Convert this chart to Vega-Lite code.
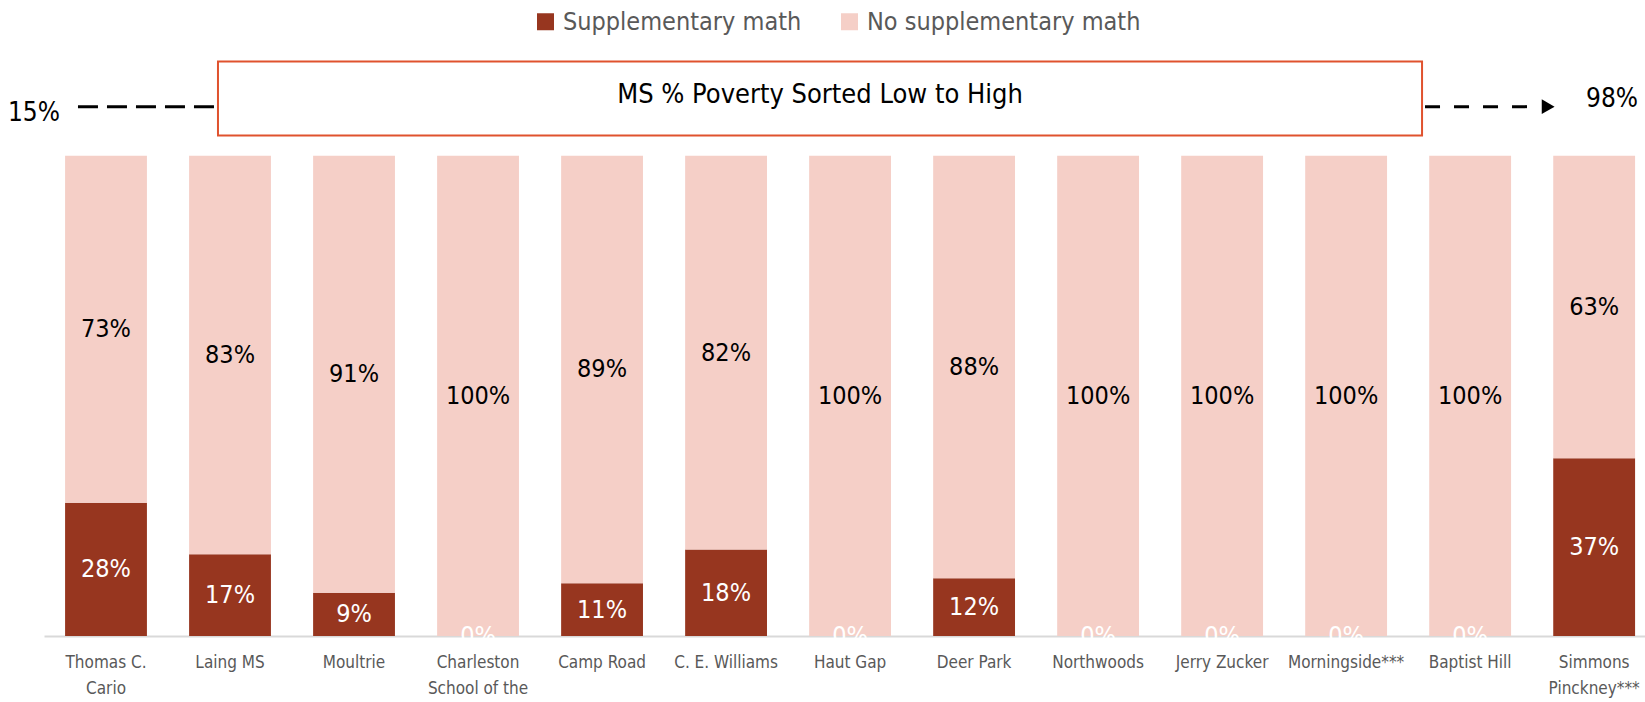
{
  "$schema": "https://vega.github.io/schema/vega-lite/v6.json",
  "width": 1601,
  "height": 586,
  "autosize": {"type": "none"},
  "padding": {"left": 44, "top": 50, "right": 0, "bottom": 66},
  "background": "white",
  "config": {"font": "DejaVu Sans Condensed, Roboto, sans-serif", "view": {"stroke": null}},
  "datasets": {
    "schools": [
      {"school": "Thomas C. Cario", "category": "Supplementary math", "share": 0.28},
      {"school": "Thomas C. Cario", "category": "No supplementary math", "share": 0.73},
      {"school": "Laing MS", "category": "Supplementary math", "share": 0.17},
      {"school": "Laing MS", "category": "No supplementary math", "share": 0.83},
      {"school": "Moultrie", "category": "Supplementary math", "share": 0.09},
      {"school": "Moultrie", "category": "No supplementary math", "share": 0.91},
      {"school": "Charleston School of the Arts", "category": "Supplementary math", "share": 0},
      {"school": "Charleston School of the Arts", "category": "No supplementary math", "share": 1.0},
      {"school": "Camp Road", "category": "Supplementary math", "share": 0.11},
      {"school": "Camp Road", "category": "No supplementary math", "share": 0.89},
      {"school": "C. E. Williams", "category": "Supplementary math", "share": 0.18},
      {"school": "C. E. Williams", "category": "No supplementary math", "share": 0.82},
      {"school": "Haut Gap", "category": "Supplementary math", "share": 0},
      {"school": "Haut Gap", "category": "No supplementary math", "share": 1.0},
      {"school": "Deer Park", "category": "Supplementary math", "share": 0.12},
      {"school": "Deer Park", "category": "No supplementary math", "share": 0.88},
      {"school": "Northwoods", "category": "Supplementary math", "share": 0},
      {"school": "Northwoods", "category": "No supplementary math", "share": 1.0},
      {"school": "Jerry Zucker", "category": "Supplementary math", "share": 0},
      {"school": "Jerry Zucker", "category": "No supplementary math", "share": 1.0},
      {"school": "Morningside***", "category": "Supplementary math", "share": 0},
      {"school": "Morningside***", "category": "No supplementary math", "share": 1.0},
      {"school": "Baptist Hill", "category": "Supplementary math", "share": 0},
      {"school": "Baptist Hill", "category": "No supplementary math", "share": 1.0},
      {"school": "Simmons Pinckney***", "category": "Supplementary math", "share": 0.37},
      {"school": "Simmons Pinckney***", "category": "No supplementary math", "share": 0.63}
    ],
    "poverty": [
      {"end": "low", "poverty": 0.15},
      {"end": "high", "poverty": 0.98}
    ],
    "note": [{"title": "MS % Poverty Sorted Low to High"}]
  },
  "layer": [
    {
      "data": {"name": "schools"},
      "transform": [
        {"stack": "share", "groupby": ["school"], "sort": [{"field": "category", "order": "descending"}], "as": ["s0", "s1"], "offset": "normalize"}
      ],
      "layer": [
        {
          "mark": {"type": "bar"},
          "encoding": {
            "x": {
              "field": "school", "type": "nominal", "sort": null,
              "scale": {"paddingInner": 0.34, "paddingOuter": 0.125, "align": 0.68},
              "axis": {
                "title": null, "labelAngle": 0, "ticks": false,
                "domainColor": "#d9d9d9", "domainWidth": 2,
                "labelColor": "#595959", "labelFontSize": 17, "labelPadding": 18,
                "labelLineHeight": 26, "labelLimit": 200,
                "labelExpr": "datum.label == 'Thomas C. Cario' ? ['Thomas C.', 'Cario'] : datum.label == 'Charleston School of the Arts' ? ['Charleston', 'School of the'] : datum.label == 'Simmons Pinckney***' ? ['Simmons', 'Pinckney***'] : datum.label"
              }
            },
            "y": {"field": "s0", "type": "quantitative", "scale": {"domain": [0, 1.22], "nice": false, "zero": false}, "axis": null},
            "y2": {"field": "s1"},
            "color": {
              "field": "category", "type": "nominal",
              "scale": {"domain": ["Supplementary math", "No supplementary math"], "range": ["#97361f", "#f5cfc7"]},
              "legend": {
                "orient": "none", "legendX": 489, "legendY": -41, "direction": "horizontal",
                "title": null, "symbolType": "square", "symbolSize": 289, "symbolStrokeWidth": 0,
                "labelFontSize": 25, "labelColor": "#595959", "labelLimit": 400,
                "columnPadding": 35, "labelOffset": 5
              }
            }
          }
        },
        {
          "transform": [
            {"fold": ["s0", "s1"], "as": ["edge", "pos"]},
            {"aggregate": [{"op": "mean", "field": "pos", "as": "mid"}], "groupby": ["school", "category", "share"]}
          ],
          "mark": {"type": "text", "fontSize": 25},
          "encoding": {
            "x": {"field": "school", "type": "nominal", "sort": null},
            "y": {"field": "mid", "type": "quantitative"},
            "text": {"field": "share", "format": ".0%"},
            "color": {"condition": {"test": "datum.category === 'Supplementary math'", "value": "white"}, "value": "black"}
          }
        }
      ]
    },
    {
      "layer": [
        {
          "data": {"name": "note"},
          "mark": {"type": "rule", "strokeDash": [20, 9], "strokeWidth": 3, "color": "black"},
          "encoding": {
            "x": {"datum": 0.274, "type": "quantitative", "scale": {"domain": [0, 12.911], "nice": false, "zero": false}, "axis": null},
            "x2": {"datum": 1.403},
            "y": {"datum": 1.102, "type": "quantitative", "scale": {"domain": [0, 1.22], "nice": false, "zero": false}}
          }
        },
        {
          "data": {"name": "note"},
          "mark": {"type": "rule", "strokeDash": [15, 14], "strokeWidth": 3, "color": "black"},
          "encoding": {
            "x": {"datum": 11.137, "type": "quantitative"},
            "x2": {"datum": 12.065},
            "y": {"datum": 1.102, "type": "quantitative"}
          }
        },
        {
          "data": {"name": "note"},
          "mark": {"type": "point", "shape": "triangle-right", "filled": true, "size": 220, "color": "black", "opacity": 1},
          "encoding": {
            "x": {"datum": 12.13, "type": "quantitative"},
            "y": {"datum": 1.102, "type": "quantitative"}
          }
        },
        {
          "data": {"name": "note"},
          "mark": {"type": "rect", "fill": "white", "stroke": "#e0522e", "strokeWidth": 2},
          "encoding": {
            "x": {"datum": 1.403, "type": "quantitative"},
            "x2": {"datum": 11.113},
            "y": {"datum": 1.042, "type": "quantitative"},
            "y2": {"datum": 1.196}
          }
        },
        {
          "data": {"name": "note"},
          "mark": {"type": "text", "fontSize": 27, "color": "black"},
          "encoding": {
            "x": {"datum": 6.258, "type": "quantitative"},
            "y": {"datum": 1.127, "type": "quantitative"},
            "text": {"field": "title"}
          }
        },
        {
          "data": {"name": "poverty"},
          "transform": [{"filter": "datum.end === 'low'"}],
          "mark": {"type": "text", "fontSize": 26, "color": "black"},
          "encoding": {
            "x": {"datum": -0.081, "type": "quantitative"},
            "y": {"datum": 1.088, "type": "quantitative"},
            "text": {"field": "poverty", "format": ".0%"}
          }
        },
        {
          "data": {"name": "poverty"},
          "transform": [{"filter": "datum.end === 'high'"}],
          "mark": {"type": "text", "fontSize": 26, "color": "black"},
          "encoding": {
            "x": {"datum": 12.645, "type": "quantitative"},
            "y": {"datum": 1.117, "type": "quantitative"},
            "text": {"field": "poverty", "format": ".0%"}
          }
        }
      ]
    }
  ],
  "resolve": {"scale": {"x": "independent"}}
}
